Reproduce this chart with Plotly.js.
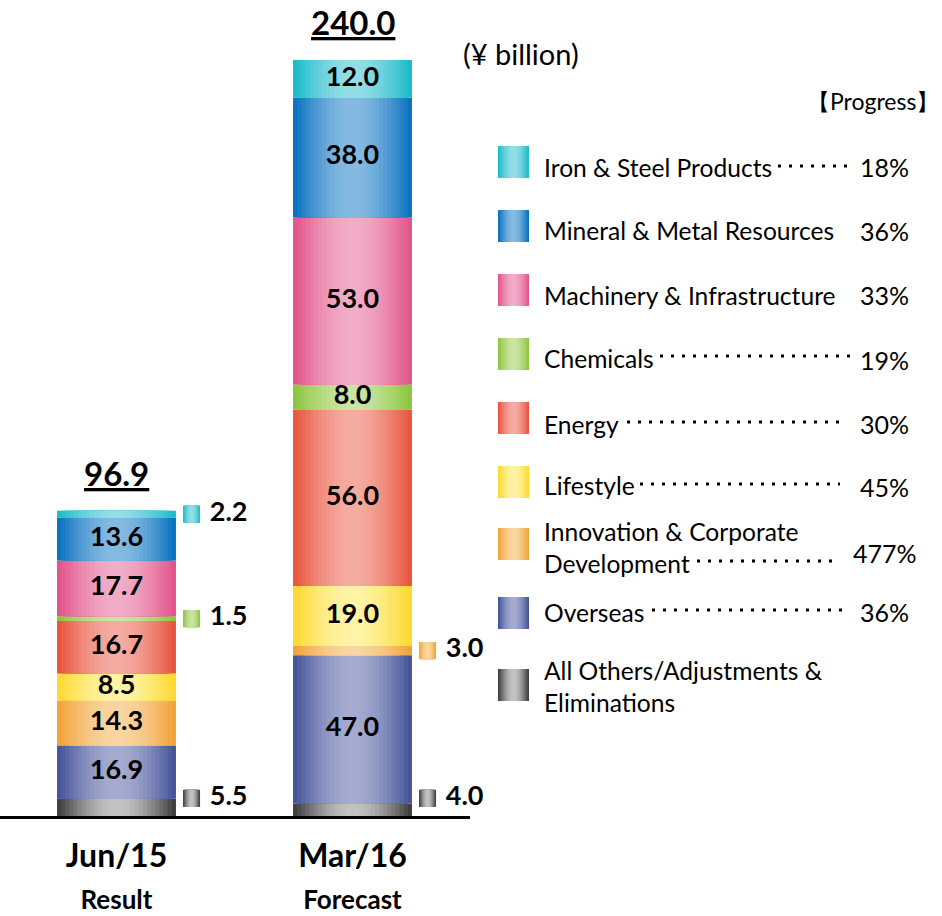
<!DOCTYPE html>
<html><head><meta charset="utf-8">
<script src="https://cdn.plot.ly/plotly-3.0.1.min.js"></script>
<style>html,body{margin:0;padding:0;background:#fff}#chart{width:942px;height:916px}</style>
</head><body><div id="chart"></div>
<script>
// ---------------- DATA ----------------
const categories = ["Jun/15", "Mar/16"];
const subLabels = ["Result", "Forecast"];
// stack order bottom -> top
const segments = ["All Others/Adjustments & Eliminations", "Overseas", "Innovation & Corporate Development",
  "Lifestyle", "Energy", "Chemicals", "Machinery & Infrastructure", "Mineral & Metal Resources", "Iron & Steel Products"];
const legendLabels = ["All Others/Adjustments &<br>Eliminations", "Overseas", "Innovation & Corporate<br>Development",
  "Lifestyle", "Energy", "Chemicals", "Machinery & Infrastructure", "Mineral & Metal Resources", "Iron & Steel Products"];
const jun15 = [5.5, 16.9, 14.3, 8.5, 16.7, 1.5, 17.7, 13.6, 2.2];
const mar16 = [4.0, 47.0, 3.0, 19.0, 56.0, 8.0, 53.0, 38.0, 12.0];
const totals = [96.9, 240.0];
const progress = ["", "36%", "477%", "45%", "30%", "19%", "33%", "36%", "18%"];
const unitLabel = "(¥ billion)";
const progressTitle = "【Progress】";

// ---------------- STYLE ----------------
const edgeColors = ["#3f3f3f", "#46559a", "#f2a43a", "#fcd933", "#e8563f", "#8cc63f", "#e2558a", "#0b72c0", "#1cbccb"];
const centerColors = ["#c4c4c4", "#a6acd0", "#f9d6a2", "#fff3a6", "#f5aca2", "#cbe4a3", "#f2adc8", "#86bbe2", "#95dde6"];
const FONT = "Lato, 'Open Sans', sans-serif";
const BAR_W = 0.504;
const LAYERS = 14;
const W = 942, H = 916;
const PX_PER_UNIT = 3.15;
const PX_PER_X = 236;
const AXIS_Y = 816, TOP_Y = 20;

function hex2rgb(h){ h=h.replace('#',''); return [0,2,4].map(i=>parseInt(h.substr(i,2),16)); }
function mix(a,b,t){ const A=hex2rgb(a),B=hex2rgb(b); return 'rgb('+A.map((v,i)=>Math.round(v+(B[i]-v)*t)).join(',')+')'; }
const px = x => x / W;
const py = y => 1 - y / H;
const layerF = k => 1 - k * (0.9 / (LAYERS - 1));
const layerT = k => Math.sin(Math.PI * (1 - layerF(k)) / 2);

function cum(arr){ let s=0; return arr.map(v=>{const b=s; s+=v; return b;}); }
const baseJ = cum(jun15), baseM = cum(mar16);

const traces = [];
const annotations = [];
const shapes = [];

// gradient-layered bars
for (let s = 0; s < segments.length; s++) {
  for (let k = 0; k < LAYERS; k++) {
    traces.push({
      type: 'bar', x: [0, 1], y: [jun15[s], mar16[s]], base: [baseJ[s], baseM[s]],
      width: BAR_W * layerF(k), name: segments[s], hoverinfo: 'skip',
      marker: { color: mix(edgeColors[s], centerColors[s], layerT(k)), line: { width: 0 } }
    });
  }
}

// inside labels and outside labels
const inX = [], inY = [], inT = [];
const outX = [], outY = [], outT = [], outS = [];
[jun15, mar16].forEach((vals, ci) => {
  const bases = ci === 0 ? baseJ : baseM;
  vals.forEach((v, s) => {
    const mid = bases[s] + v / 2;
    if (v >= 6) { inX.push(ci); inY.push(mid); inT.push(v.toFixed(1)); }
    else { outX.push(ci); outY.push(Math.max(mid, 5.6)); outT.push(v.toFixed(1)); outS.push(s); }
  });
});
traces.push({ type: 'scatter', mode: 'text', x: inX, y: inY, text: inT, hoverinfo: 'skip',
  textfont: { family: FONT, size: 27, color: '#000', weight: 'bold' }, textposition: 'middle center' });

const MK_OFF = 0.318, TX_OFF = 0.395;
const MK_HW = 8.5 / PX_PER_X, MK_HH = 8.5 / PX_PER_UNIT;
outX.forEach((x, j) => {
  const s = outS[j], cx = x + MK_OFF, cy = outY[j];
  for (let k = 0; k < LAYERS; k++) {
    shapes.push({ type: 'rect', xref: 'x', yref: 'y', x0: cx - MK_HW * layerF(k), x1: cx + MK_HW * layerF(k),
      y0: cy - MK_HH, y1: cy + MK_HH, line: { width: 0 }, fillcolor: mix(edgeColors[s], centerColors[s], layerT(k)) });
  }
});
traces.push({ type: 'scatter', mode: 'text', x: outX.map(x => x + TX_OFF), y: outY, text: outT, hoverinfo: 'skip',
  cliponaxis: false,
  textfont: { family: FONT, size: 27, color: '#000', weight: 'bold' }, textposition: 'middle right' });

// ---------------- LAYOUT ----------------
totals.forEach((t, i) => {
  annotations.push({ x: i, y: t, xref: 'x', yref: 'y', text: '<b><u>' + t.toFixed(1) + '</u></b>',
    showarrow: false, yanchor: 'middle', yshift: 38, font: { family: FONT, size: 33, color: '#000' } });
});

annotations.push({ xref: 'paper', yref: 'paper', x: px(461), y: py(53), xanchor: 'left', yanchor: 'middle',
  text: unitLabel, showarrow: false, font: { family: FONT, size: 29, color: '#000' } });
annotations.push({ xref: 'paper', yref: 'paper', x: px(941), y: py(101), xanchor: 'right', yanchor: 'middle',
  text: progressTitle, showarrow: false, font: { family: FONT, size: 23, color: '#000' } });

// legend (top -> bottom = reverse stack order)
const rowSq = [162, 226, 290, 354, 418, 482, 544, 613, 685];
const rowTx = [167, 231, 295, 358, 424, 486, 547, 612, 686];
const rowPc = [167, 231, 295, 360, 424, 487, 553, 612, 686];
const leaders = [[778, 848, 166], null, null, [660, 852, 356], [627, 840, 422], [640, 840, 484], [697, 833, 561], [652, 842, 610], null];
for (let r = 0; r < segments.length; r++) {
  const s = segments.length - 1 - r;
  const cy = rowSq[r];
  const x0 = 498, x1 = 529, cx = (x0 + x1) / 2, hw = (x1 - x0) / 2;
  for (let k = 0; k < LAYERS; k++) {
    const f = layerF(k);
    shapes.push({ type: 'rect', xref: 'paper', yref: 'paper', x0: px(cx - hw * f), x1: px(cx + hw * f),
      y0: py(cy + 16), y1: py(cy - 16), line: { width: 0 }, fillcolor: mix(edgeColors[s], centerColors[s], layerT(k)) });
  }
  annotations.push({ xref: 'paper', yref: 'paper', x: px(542), y: py(rowTx[r]), xanchor: 'left', yanchor: 'middle',
    align: 'left', text: legendLabels[s], showarrow: false, font: { family: FONT, size: 24.6, color: '#000' } });
  if (progress[s]) {
    annotations.push({ xref: 'paper', yref: 'paper', x: px(r === 6 ? 919 : 911), y: py(rowPc[r]), xanchor: 'right', yanchor: 'middle',
      text: progress[s], showarrow: false, font: { family: FONT, size: 25, color: '#000' } });
  }
  const L = leaders[r];
  if (L) {
    shapes.push({ type: 'line', xref: 'paper', yref: 'paper', x0: px(L[0]), x1: px(L[1]), y0: py(L[2]), y1: py(L[2]),
      line: { color: '#000', width: 3, dash: '3px,8px' } });
  }
}

const layout = {
  width: W, height: H, margin: { l: 0, r: 0, t: 0, b: 0 },
  paper_bgcolor: '#fff', plot_bgcolor: '#fff', showlegend: false, barmode: 'overlay',
  xaxis: {
    domain: [0, 470 / W], range: [-116.5 / PX_PER_X, (470 - 116.5) / PX_PER_X],
    tickvals: [0, 1],
    ticktext: categories.map((c, i) => '<b>' + c + '</b><br><span style="font-size:26px"><b>' + subLabels[i] + '</b></span>'),
    tickfont: { family: FONT, size: 32, color: '#000' }, ticklabelstandoff: 10,
    showgrid: false, zeroline: false, showline: true, linecolor: '#000', linewidth: 2.5, ticks: '', fixedrange: true
  },
  yaxis: { domain: [(H - AXIS_Y) / H, (H - TOP_Y) / H], range: [0, (AXIS_Y - TOP_Y) / PX_PER_UNIT], visible: false, fixedrange: true },
  annotations: annotations, shapes: shapes
};

Plotly.newPlot('chart', traces, layout, { staticPlot: true, displayModeBar: false });
</script>
</body></html>
